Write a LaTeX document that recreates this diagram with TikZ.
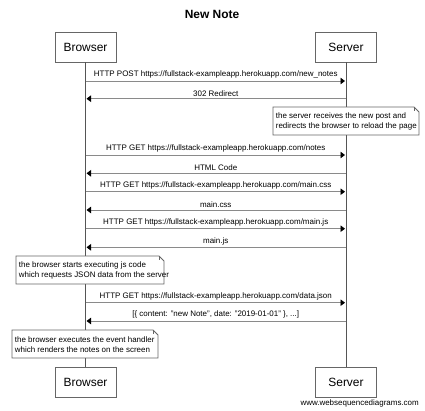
\documentclass[tikz,border=0pt]{standalone}
\usepackage{fontspec}
\setmainfont{Liberation Sans}
\usetikzlibrary{arrows.meta}
\definecolor{boxgray}{HTML}{666666}
\definecolor{linegray}{HTML}{8A8A8A}
\definecolor{lifegray}{HTML}{555555}
\begin{document}
\begin{tikzpicture}[x=1bp,y=-1bp,
  actor/.style={draw=boxgray, line width=0.8bp, fill=white, minimum width=61bp,
    minimum height=30bp, inner sep=0pt, font=\fontsize{12}{14}\selectfont},
  lifeline/.style={draw=lifegray, line width=0.8bp},
  msg/.style={draw=linegray, line width=0.8bp, shorten >=1bp,
    -{Triangle[length=4.5bp,width=6.5bp,color=black]}},
  lbl/.style={font=\fontsize{8}{9.6}\selectfont, anchor=south, inner sep=0pt,
    yshift=2.2bp},
  notetext/.style={anchor=north west, inner sep=0pt, minimum height=28bp,
    align=left, font=\fontsize{8}{10}\selectfont},
  noteline/.style={draw=boxgray, line width=0.8bp}
]
\useasboundingbox (0,0) rectangle (425,411);

% title
\node[font=\bfseries\fontsize{12}{14}\selectfont] (title) at (212,14) {New Note};

% participants
\node[actor] (bTop) at (85.5,47) {Browser};
\node[actor] (sTop) at (346,47) {Server};
\node[actor] (bBot) at (85.5,382) {Browser};
\node[actor] (sBot) at (346,382) {Server};

\draw[lifeline] (bTop.south) -- (bBot.north);
\draw[lifeline] (sTop.south) -- (sBot.north);

% message end points on the lifelines
\foreach \i/\y in {1/81,2/98.7,3/155,4/173.3,5/191.7,6/210,7/228.7,8/247.3,9/302.7,10/321}{
  \coordinate (b\i) at (85.5,\y);
  \coordinate (s\i) at (346,\y);
}

\newcommand\request[2]{%
  \draw[msg] (b#1) -- node[lbl] (m#1) {#2} (s#1);}
\newcommand\reply[2]{%
  \draw[msg] (s#1) -- node[lbl] (m#1) {#2} (b#1);}

\request{1}{HTTP POST https://fullstack-exampleapp.herokuapp.com/new\_notes}
\reply{2}{302 Redirect}
\request{3}{HTTP GET https://fullstack-exampleapp.herokuapp.com/notes}
\reply{4}{HTML Code}
\request{5}{HTTP GET https://fullstack-exampleapp.herokuapp.com/main.css}
\reply{6}{main.css}
\request{7}{HTTP GET https://fullstack-exampleapp.herokuapp.com/main.js}
\reply{8}{main.js}
\request{9}{HTTP GET https://fullstack-exampleapp.herokuapp.com/data.json}
\reply{10}{[\{ content: "new Note", date: "2019-01-01" \}, ...]}

% notes with folded corner: name, left x, top y, width, text
\newcommand\notepaper[5]{%
  \fill[white] (#2,#3) rectangle ++(#4,28);
  \draw[noteline] (#2,#3) -- ++(#4-5,0) -- ++(5,5) -- ++(0,23) -- ++(-#4,0) -- cycle;
  \draw[noteline] (#2+#4-5,#3) -- ++(0,4);
  \node[notetext] (#1) at (#2+2.7,#3) {#5};
}

\notepaper{n1}{273}{107}{146}{the server receives the new post and\\redirects the browser to reload the page}
\notepaper{n2}{16}{256}{148}{the browser starts executing js code\\which requests JSON data from the server}
\notepaper{n3}{12}{330}{146}{the browser executes the event handler\\which renders the notes on the screen}

% credit line
\node[font=\fontsize{8}{9.6}\selectfont, anchor=east, inner sep=0pt] (credit) at (419,403)
  {www.websequencediagrams.com};
\end{tikzpicture}
\end{document}
